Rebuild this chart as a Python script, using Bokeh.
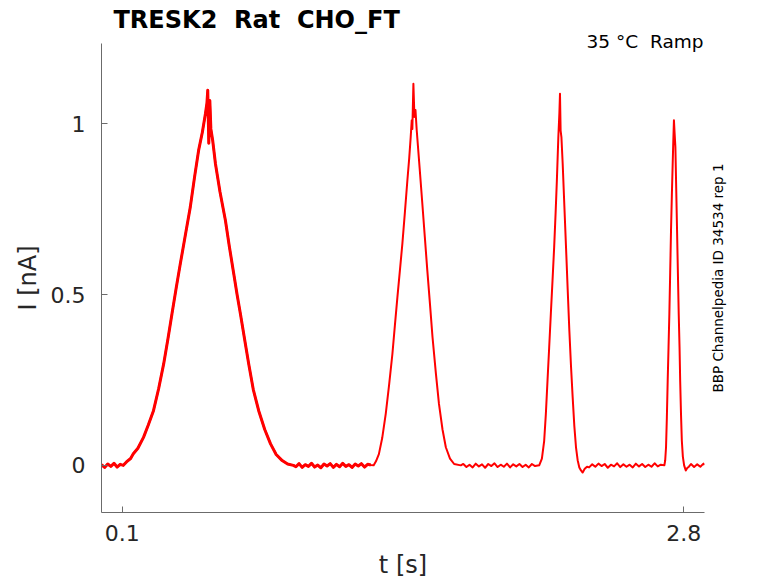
from bokeh.plotting import figure
from bokeh.layouts import row
from bokeh.models import Range1d, Title, NumeralTickFormatter, FixedTicker
from bokeh.embed import file_html
from bokeh.resources import INLINE

# ---- data (time in s, current in nA) ----
base1_t = [0.000, 0.015, 0.030, 0.045, 0.060, 0.075, 0.090, 0.105, 0.120]
base1_i = [0.002, -0.006, 0.004, -0.003, 0.006, -0.005, 0.003, 0.000, 0.010]

peak1_t = [0.140, 0.153, 0.175, 0.202, 0.225, 0.250, 0.275, 0.299, 0.320, 0.339,
           0.360, 0.379, 0.405, 0.427, 0.448, 0.467, 0.485, 0.500, 0.507, 0.511,
           0.516, 0.521, 0.526, 0.535, 0.548, 0.570, 0.596, 0.615, 0.636, 0.652,
           0.668, 0.688, 0.708, 0.730, 0.756, 0.785, 0.813, 0.840, 0.869, 0.895, 0.923]
peak1_i = [0.020, 0.034, 0.050, 0.082, 0.118, 0.160, 0.225, 0.297, 0.372, 0.444,
           0.522, 0.590, 0.680, 0.756, 0.846, 0.922, 0.975, 1.030, 1.060, 1.098,
           0.943, 1.068, 0.985, 0.950, 0.883, 0.800, 0.717, 0.640, 0.561, 0.500,
           0.444, 0.370, 0.297, 0.222, 0.160, 0.105, 0.063, 0.032, 0.014, 0.004, 0.000]

base2_t = [0.935, 0.950, 0.965, 0.980, 0.995, 1.010, 1.025, 1.040, 1.055, 1.070,
           1.085, 1.100, 1.115, 1.130, 1.145, 1.160, 1.175, 1.190, 1.205, 1.220,
           1.235, 1.250, 1.265, 1.280, 1.295]
base2_i = [-0.004, 0.005, -0.006, 0.002, -0.003, 0.006, -0.005, 0.001, -0.007, 0.004,
           -0.002, 0.005, -0.006, 0.003, -0.004, 0.006, -0.003, 0.002, -0.006, 0.004,
           -0.002, 0.005, -0.005, 0.003, 0.001]

peak2_t = [1.309, 1.320, 1.334, 1.350, 1.367, 1.383, 1.399, 1.411, 1.423, 1.435,
           1.447, 1.459, 1.471, 1.480, 1.487, 1.492, 1.495, 1.500, 1.505, 1.510,
           1.516, 1.530, 1.543, 1.555, 1.567, 1.580, 1.592, 1.608, 1.623, 1.640,
           1.656, 1.676, 1.696, 1.728]
peak2_i = [0.000, 0.012, 0.033, 0.080, 0.151, 0.235, 0.326, 0.410, 0.492, 0.570,
           0.649, 0.740, 0.834, 0.900, 0.961, 1.010, 0.985, 1.117, 1.020, 1.040,
           0.981, 0.870, 0.766, 0.668, 0.570, 0.470, 0.375, 0.270, 0.180, 0.105,
           0.053, 0.020, 0.004, 0.000]

base3_t = [1.740, 1.755, 1.770, 1.785, 1.800, 1.815, 1.830, 1.845, 1.860, 1.875,
           1.890, 1.905, 1.920, 1.935, 1.950, 1.965, 1.980, 1.995, 2.010, 2.025,
           2.040, 2.055, 2.070, 2.085]
base3_i = [0.004, -0.005, 0.002, -0.006, 0.005, -0.003, 0.003, -0.007, 0.004, -0.002,
           0.006, -0.005, 0.002, -0.004, 0.005, -0.006, 0.003, -0.003, 0.004, -0.005,
           0.002, -0.006, 0.004, -0.002]

peak3_t = [2.105, 2.118, 2.129, 2.137, 2.145, 2.153, 2.161, 2.169, 2.177, 2.184,
           2.190, 2.197, 2.202, 2.205, 2.208, 2.212, 2.218, 2.226, 2.234, 2.242,
           2.250, 2.258, 2.266, 2.274, 2.282, 2.290, 2.298, 2.306, 2.314, 2.324, 2.335]
peak3_i = [0.000, 0.020, 0.072, 0.150, 0.248, 0.345, 0.444, 0.540, 0.639, 0.740,
           0.834, 0.960, 1.030, 1.088, 0.980, 0.960, 0.883, 0.760, 0.639, 0.515,
           0.395, 0.290, 0.199, 0.115, 0.053, 0.015, -0.006, -0.015, -0.021, -0.010, -0.004]

base4_t = [2.345, 2.360, 2.375, 2.390, 2.405, 2.420, 2.435, 2.450, 2.465, 2.480,
           2.495, 2.510, 2.525, 2.540, 2.555, 2.570, 2.585, 2.600, 2.615, 2.630,
           2.645, 2.660, 2.675, 2.690]
base4_i = [-0.006, 0.003, -0.004, 0.005, -0.002, 0.004, -0.007, 0.002, -0.003, 0.006,
           -0.005, 0.003, -0.004, 0.002, -0.006, 0.005, -0.003, 0.004, -0.005, 0.002,
           -0.004, 0.006, -0.003, 0.002]

peak4_t = [2.707, 2.711, 2.715, 2.719, 2.723, 2.727, 2.731, 2.735, 2.739, 2.743,
           2.747, 2.750, 2.753, 2.756, 2.760, 2.764, 2.768, 2.772, 2.776, 2.780,
           2.783, 2.787, 2.791, 2.796, 2.802, 2.810, 2.817, 2.825]
peak4_i = [0.000, 0.015, 0.053, 0.140, 0.248, 0.345, 0.444, 0.565, 0.688, 0.790,
           0.883, 0.950, 1.010, 0.975, 0.932, 0.810, 0.688, 0.565, 0.444, 0.345,
           0.248, 0.150, 0.072, 0.025, 0.000, -0.015, -0.008, -0.004]

base5_t = [2.835, 2.850, 2.865, 2.880, 2.895, 2.900]
base5_i = [0.004, -0.005, 0.003, -0.004, 0.005, 0.001]

x_ticks = [0.1, 2.8]
y_ticks = [0, 0.5, 1]

NB = "\u00a0"
title_text = "TRESK2 " + NB + "Rat " + NB + "CHO_FT"
cond_text = "35 °C " + NB + "Ramp"
id_text = "BBP Channelpedia ID 34534 rep 1"

t_all = base1_t + peak1_t + base2_t + peak2_t + base3_t + peak3_t + base4_t + peak4_t + base5_t
i_all = base1_i + peak1_i + base2_i + peak2_i + base3_i + peak3_i + base4_i + peak4_i + base5_i

# the first (slow) ramp response is noisier, so it is drawn with a thicker stroke
t_first = base1_t + peak1_t + base2_t
i_first = base1_i + peak1_i + base2_i

FONT = "DejaVu Sans"
AXIS_COL = "#6b6b6b"
LABEL_COL = "#262626"

W, H = 776, 581
W1 = 707
FL, FR, FT, FB = 101, 704, 43, 512

p = figure(width=W1, height=H, output_backend="svg", toolbar_location=None,
           x_range=Range1d(0, 2.9), y_range=Range1d(-0.138, 1.235),
           min_border_left=FL, min_border_right=W1 - FR, min_border_top=FT,
           min_border_bottom=H - FB, title=None)

# inner title (closest to the frame): condition text, right aligned
t_cond = Title(text=cond_text, align="right", offset=1, text_font=FONT,
               text_font_size="18.5px", text_font_style="normal", text_color="black")
try:
    t_cond.standoff = -16.8
except Exception:
    t_cond.standoff = 0
p.add_layout(t_cond, "above")

# outer title: main title, bold, left aligned
t_main = Title(text=title_text, align="left", offset=12, standoff=6.5, text_font=FONT,
               text_font_size="24px", text_font_style="bold", text_color="black")
p.add_layout(t_main, "above")

p.grid.visible = False
p.outline_line_color = None
p.background_fill_color = "white"
p.border_fill_color = "white"

p.line(t_all, i_all, line_color="#ff0000", line_width=2, line_join="round")
p.line(t_first, i_first, line_color="#ff0000", line_width=3, line_join="round")

for ax in (p.xaxis[0], p.yaxis[0]):
    ax.axis_line_color = AXIS_COL
    ax.major_tick_line_color = AXIS_COL
    ax.minor_tick_line_color = None
    ax.major_tick_in = 6
    ax.major_tick_out = 0
    ax.major_label_text_font = FONT
    ax.major_label_text_font_size = "22px"
    ax.major_label_text_color = LABEL_COL
    ax.axis_label_text_font = FONT
    ax.axis_label_text_font_size = "24px"
    ax.axis_label_text_font_style = "normal"
    ax.axis_label_text_color = LABEL_COL
    ax.formatter = NumeralTickFormatter(format="0.[0]")

p.xaxis.ticker = FixedTicker(ticks=x_ticks)
p.yaxis.ticker = FixedTicker(ticks=y_ticks)
p.xaxis.axis_label = "t [s]"
p.yaxis.axis_label = "I [nA]"
p.xaxis.major_label_standoff = 12
p.xaxis.axis_label_standoff = 7
p.yaxis.major_label_standoff = 16
p.yaxis.axis_label_standoff = 6

# narrow side panel holding the vertical ID text (reads bottom to top)
p2 = figure(width=W - W1, height=H, output_backend="svg", toolbar_location=None,
            x_axis_location=None, y_axis_location=None, title=None,
            min_border_left=0, min_border_right=0, min_border_top=FT,
            min_border_bottom=H - FB)
p2.grid.visible = False
p2.outline_line_color = None
p2.background_fill_color = "white"
p2.border_fill_color = "white"
p2.add_layout(Title(text=id_text, align="center", standoff=0, text_font=FONT,
                    text_font_size="13.5px", text_font_style="normal",
                    text_color="black"), "left")

layout = row(p, p2)
open("out.html", "w").write(file_html(layout, INLINE))
